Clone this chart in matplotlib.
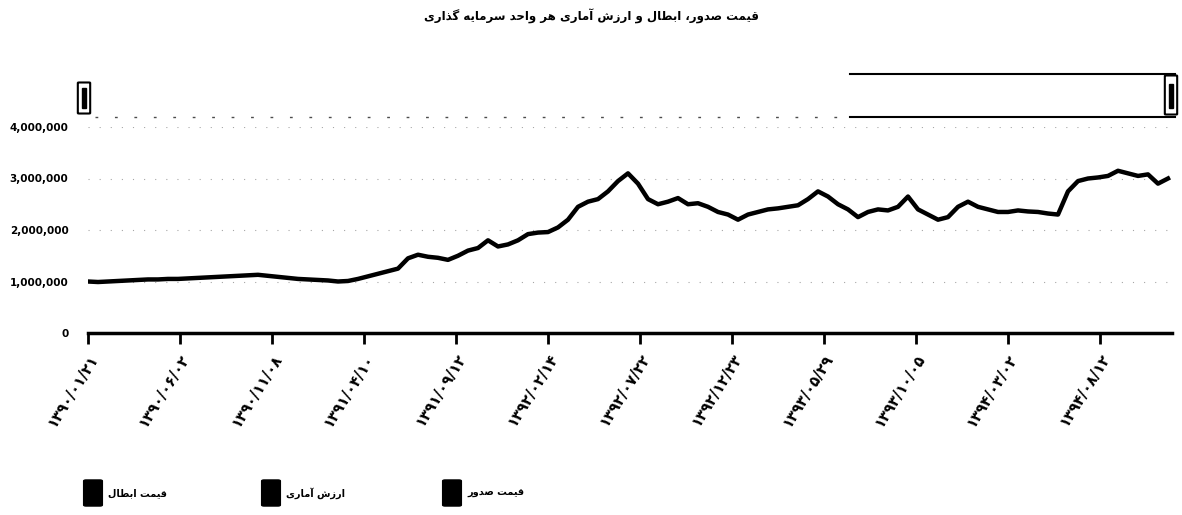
import matplotlib
matplotlib.use('Agg')
import matplotlib.pyplot as plt
from matplotlib.patches import FancyBboxPatch, Rectangle
from matplotlib.lines import Line2D
from matplotlib.ticker import FuncFormatter

plt.rcParams['font.family'] = ['DejaVu Sans']

# ---- data (values in rials) ----
price_m = [1.00, 0.99, 1.00, 1.01, 1.02, 1.03, 1.04, 1.04, 1.05, 1.05,
           1.06, 1.07, 1.08, 1.09, 1.10, 1.11, 1.12, 1.13, 1.11, 1.09,
           1.07, 1.05, 1.04, 1.03, 1.02, 1.00, 1.01, 1.05, 1.10, 1.15,
           1.20, 1.25, 1.45, 1.52, 1.48, 1.46, 1.42, 1.50, 1.60, 1.65,
           1.80, 1.68, 1.72, 1.80, 1.92, 1.95, 1.96, 2.05, 2.20, 2.45,
           2.55, 2.60, 2.75, 2.95, 3.10, 2.90, 2.60, 2.50, 2.55, 2.62,
           2.50, 2.52, 2.45, 2.35, 2.30, 2.20, 2.30, 2.35, 2.40, 2.42,
           2.45, 2.48, 2.60, 2.75, 2.65, 2.50, 2.40, 2.25, 2.35, 2.40,
           2.38, 2.45, 2.65, 2.40, 2.30, 2.20, 2.25, 2.45, 2.55, 2.45,
           2.40, 2.35, 2.35, 2.38, 2.36, 2.35, 2.32, 2.30, 2.75, 2.95,
           3.00, 3.02, 3.05, 3.15, 3.10, 3.05, 3.08, 2.90, 3.00]
price = [v * 1e6 for v in price_m]

tick_pos = [0, 9.2, 18.4, 27.6, 36.8, 46.0, 55.2, 64.4, 73.6, 82.8, 92.0, 101.2]
tick_labels = ['۱۳۹۰/۰۱/۲۱', '۱۳۹۰/۰۶/۰۲', '۱۳۹۰/۱۱/۰۸', '۱۳۹۱/۰۴/۱۰',
               '۱۳۹۱/۰۹/۱۲', '۱۳۹۲/۰۲/۱۴', '۱۳۹۲/۰۷/۲۲', '۱۳۹۲/۱۲/۲۳',
               '۱۳۹۳/۰۵/۲۹', '۱۳۹۳/۱۰/۰۵', '۱۳۹۴/۰۳/۰۲', '۱۳۹۴/۰۸/۱۲']
y_ticks = [0, 1e6, 2e6, 3e6, 4e6]

title = 'قیمت صدور، ابطال و ارزش آماری هر واحد سرمایه گذاری'
legend_labels = ['قیمت ابطال', 'ارزش آماری', 'قیمت صدور']


# ---- tiny persian shaper (matplotlib has no bidi / shaping) ----
FORMS = {
    'ا': ('\uFE8D', '\uFE8E', None, None), 'آ': ('\uFE81', '\uFE82', None, None),
    'ب': ('\uFE8F', '\uFE90', '\uFE91', '\uFE92'), 'ت': ('\uFE95', '\uFE96', '\uFE97', '\uFE98'),
    'ح': ('\uFEA1', '\uFEA2', '\uFEA3', '\uFEA4'), 'د': ('\uFEA9', '\uFEAA', None, None),
    'ذ': ('\uFEAB', '\uFEAC', None, None), 'ر': ('\uFEAD', '\uFEAE', None, None),
    'ز': ('\uFEAF', '\uFEB0', None, None), 'س': ('\uFEB1', '\uFEB2', '\uFEB3', '\uFEB4'),
    'ش': ('\uFEB5', '\uFEB6', '\uFEB7', '\uFEB8'), 'ص': ('\uFEB9', '\uFEBA', '\uFEBB', '\uFEBC'),
    'ط': ('\uFEC1', '\uFEC2', '\uFEC3', '\uFEC4'), 'ق': ('\uFED5', '\uFED6', '\uFED7', '\uFED8'),
    'گ': ('\uFB92', '\uFB93', '\uFB94', '\uFB95'), 'ل': ('\uFEDD', '\uFEDE', '\uFEDF', '\uFEE0'),
    'م': ('\uFEE1', '\uFEE2', '\uFEE3', '\uFEE4'), 'ه': ('\uFEE9', '\uFEEA', '\uFEEB', '\uFEEC'),
    'و': ('\uFEED', '\uFEEE', None, None), 'ی': ('\uFBFC', '\uFBFD', '\uFBFE', '\uFBFF'),
}


def shape(text):
    out = []
    for i, ch in enumerate(text):
        if ch not in FORMS:
            out.append(ch)
            continue
        iso, fin, ini, med = FORMS[ch]
        prev = text[i - 1] if i > 0 else ''
        nxt = text[i + 1] if i + 1 < len(text) else ''
        pj = prev in FORMS and FORMS[prev][2] is not None
        nj = nxt in FORMS and ini is not None
        if pj and nj:
            out.append(med)
        elif pj:
            out.append(fin)
        elif nj:
            out.append(ini)
        else:
            out.append(iso)
    return ''.join(reversed(out))


fig = plt.figure(figsize=(11.82, 5.15), dpi=100)
ax = fig.add_axes([88 / 1182, 1 - 333 / 515, 1084 / 1182, 206 / 515])

x = list(range(len(price)))
ax.plot(x, price, color='black', linewidth=3.2, solid_joinstyle='round')

ax.set_xlim(0, len(price) - 0.6)
ax.set_ylim(0, 4e6)
ax.set_yticks(y_ticks)
ax.yaxis.set_major_formatter(FuncFormatter(lambda v, p: f'{int(v):,}'))
ax.set_xticks(tick_pos)
ax.set_xticklabels(tick_labels, rotation=58, ha='right', rotation_mode='anchor',
                   fontsize=10.5, fontweight='bold')
for lab in ax.get_yticklabels():
    lab.set_fontsize(7.5)
    lab.set_fontweight('bold')

for s in ['top', 'right', 'left']:
    ax.spines[s].set_visible(False)
ax.spines['bottom'].set_linewidth(2.5)
ax.tick_params(axis='x', length=8, width=2, pad=5)
ax.tick_params(axis='y', length=0, pad=14)
ax.grid(axis='y', color='black', linestyle=(0, (1, 9)), linewidth=0.8, alpha=0.35)

fig.text(0.5, 1 - 16 / 515, shape(title), ha='center', va='center',
         fontsize=8.5, fontweight='bold')

# navigator remnants at the top
W, H = 1182, 515
fig.add_artist(Line2D([850 / W, 1175 / W], [1 - 74 / H, 1 - 74 / H], color='black', lw=1.5))
fig.add_artist(Line2D([95 / W, 850 / W], [1 - 117 / H, 1 - 117 / H], color='black',
                      lw=1.0, linestyle=(0, (2, 12)), alpha=0.7))
fig.add_artist(Line2D([850 / W, 1175 / W], [1 - 117 / H, 1 - 117 / H], color='black', lw=1.5))
fig.add_artist(FancyBboxPatch((79 / W, 1 - 113 / H), 10 / W, 30 / H,
                              boxstyle='round,pad=0.001', facecolor='white',
                              edgecolor='black', lw=1.5))
fig.add_artist(Rectangle((82 / W, 1 - 108 / H), 4 / W, 20 / H, color='black'))
fig.add_artist(FancyBboxPatch((1166 / W, 1 - 114 / H), 10 / W, 38 / H,
                              boxstyle='round,pad=0.001', facecolor='white',
                              edgecolor='black', lw=1.5))
fig.add_artist(Rectangle((1169 / W, 1 - 108 / H), 4 / W, 24 / H, color='black'))

# legend
leg_x = [86, 264, 445]
for lx, lab in zip(leg_x, legend_labels):
    fig.add_artist(FancyBboxPatch((lx / W, 1 - 505 / H), 14 / W, 24 / H,
                                  boxstyle='round,pad=0.002', color='black'))
    fig.text((lx + 22) / W, 1 - 493 / H, shape(lab), ha='left', va='center',
             fontsize=7, fontweight='bold')

fig.savefig('out.png', dpi=100, facecolor='white')
